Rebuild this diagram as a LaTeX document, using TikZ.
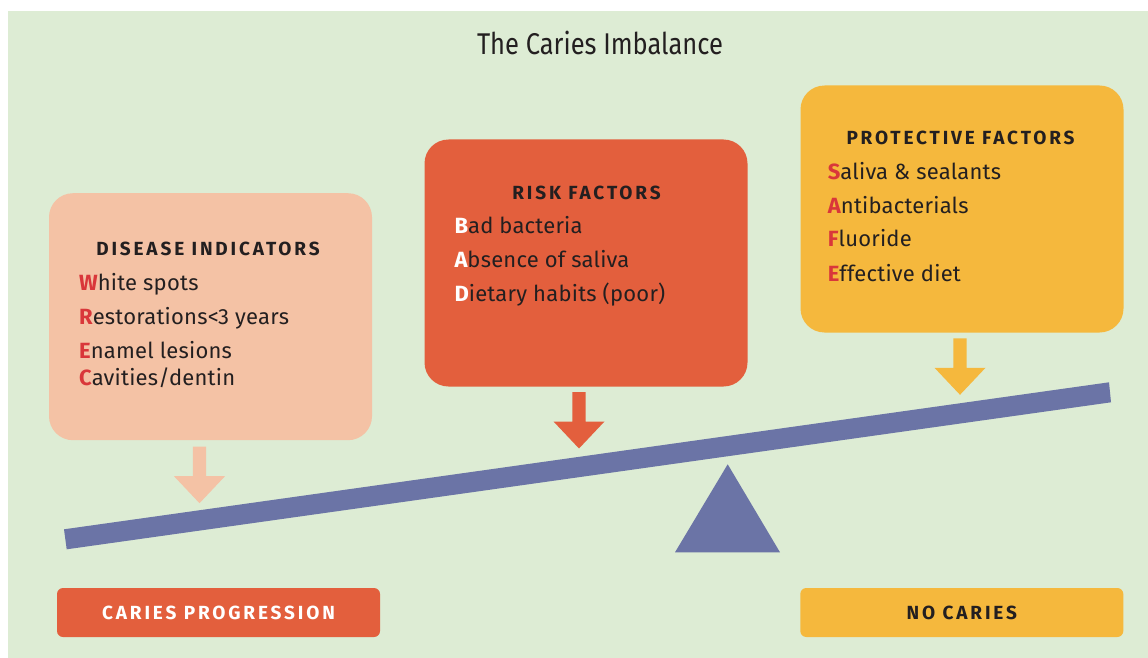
\documentclass[tikz,border=0pt]{standalone}
\usepackage{fontspec}
\setmainfont{Fira Sans}
\newfontfamily\titlefont[FakeStretch=0.85]{Fira Sans}
\newfontfamily\bodyfont[LetterSpace=1]{Fira Sans}
\newfontfamily\headfont[LetterSpace=15]{Fira Sans}
\definecolor{bg}{HTML}{DDECD4}
\definecolor{salmon}{HTML}{F4C2A5}
\definecolor{riskred}{HTML}{E35F3D}
\definecolor{protyellow}{HTML}{F5B83D}
\definecolor{beamblue}{HTML}{6B74A6}
\definecolor{initred}{HTML}{D9373A}
\definecolor{ink}{HTML}{231F20}
\newcommand\redini[1]{{\bfseries\color{initred}#1}}
\newcommand\whiteini[1]{{\bfseries\color{white}#1}}
\begin{document}
\begin{tikzpicture}[x=1pt,y=-1pt,
  bigbox/.style={rounded corners=24pt, minimum width=323pt, minimum height=247pt, inner sep=0pt},
  smallbox/.style={rounded corners=6pt, minimum width=323pt, minimum height=49pt, inner sep=0pt},
  headfnt/.style={font=\headfont\bfseries\fontsize{19}{21}\selectfont},
  head/.style={headfnt, anchor=base, inner sep=0pt, text=ink},
  item/.style={anchor=base west, inner sep=0pt, text=ink, font=\bodyfont\fontsize{22}{25}\selectfont},
  droparrow/.pic={\fill (-6.7,0) -- (6.7,0) -- (6.7,29.5) -- (25.5,29.5) -- (0,56.5) -- (-25.5,29.5) -- (-6.7,29.5) -- cycle;}
]
\useasboundingbox (0,0) rectangle (1148,658);
\fill[white] (0,0) rectangle (1148,658);
\fill[bg] (8,11) rectangle (1148,658);

% title
\node[anchor=base, inner sep=0pt, text=ink, font=\titlefont\fontsize{30}{34}\selectfont] (title) at (600,55) {The Caries Imbalance};

% beam and fulcrum
\fill[beamblue] (64,529.3) -- (66.7,549.3) -- (1111,402.3) -- (1109,382.3) -- cycle;
\fill[beamblue] (727.7,464.3) -- (780,552.3) -- (675,552.3) -- cycle;

% boxes
\node[bigbox, fill=salmon] (dis) at (210.5,316.7) {};
\node[bigbox, fill=riskred] (risk) at (586,263) {};
\node[bigbox, fill=protyellow] (prot) at (962,209) {};

% disease indicators
\node[head] (dish) at (208,255) {DISEASE INDICATORS};
\node[item] (dis1) at (79,290) {\redini{W}hite spots};
\node[item] (dis2) at (79,324) {\redini{R}estorations<3 years};
\node[item] (dis3) at (79,358) {\redini{E}namel lesions};
\node[item] (dis4) at (79,385.7) {\redini{C}avities/dentin};

% risk factors
\node[head] (riskh) at (586.5,199.3) {RISK FACTORS};
\node[item] (risk1) at (454.3,233.3) {\whiteini{B}ad bacteria};
\node[item] (risk2) at (454.3,267.7) {\whiteini{A}bsence of saliva};
\node[item] (risk3) at (454.3,301.7) {\whiteini{D}ietary habits (poor)};

% protective factors
\node[head] (proth) at (960.5,144.3) {PROTECTIVE FACTORS};
\node[item] (prot1) at (827.7,179.3) {\redini{S}aliva \& sealants};
\node[item] (prot2) at (827.7,213.3) {\redini{A}ntibacterials};
\node[item] (prot3) at (827.7,246.7) {\redini{F}luoride};
\node[item] (prot4) at (827.7,281) {\redini{E}ffective diet};

% arrows
\pic[fill=salmon] at (199.5,446.7) {droparrow};
\pic[fill=riskred] at (579,392) {droparrow};
\pic[fill=protyellow] at (960,338.3) {droparrow};

% outcome boxes
\node[smallbox, headfnt, fill=riskred, text=white] (prog) at (218.5,612.5) {CARIES PROGRESSION};
\node[smallbox, headfnt, fill=protyellow, text=ink] (nocar) at (961.8,612.5) {NO CARIES};
\end{tikzpicture}
\end{document}
